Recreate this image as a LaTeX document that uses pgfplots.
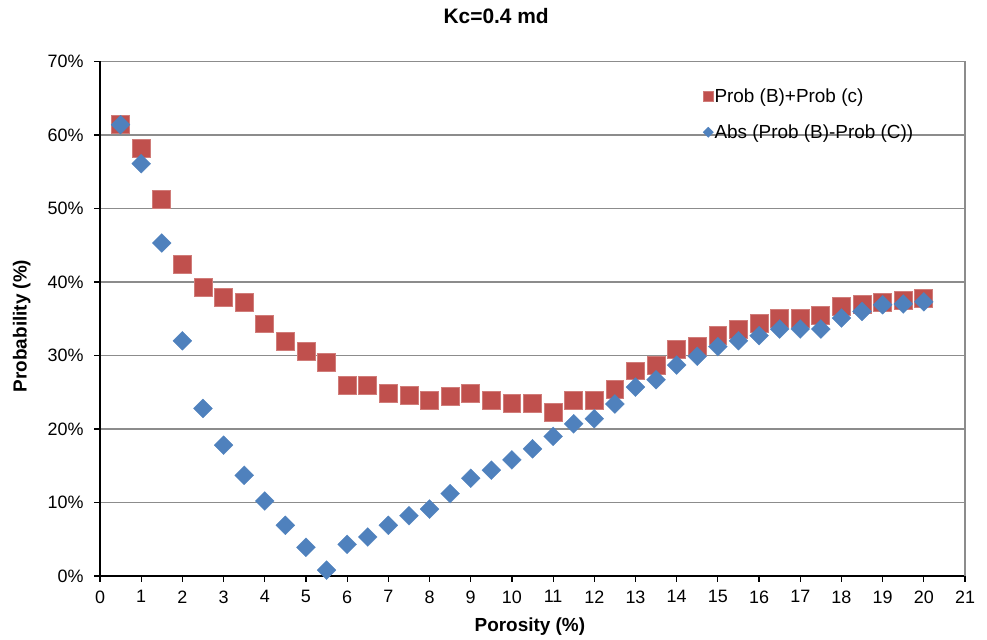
\documentclass[border=0pt]{standalone}
\usepackage{fontspec}
\setmainfont{Liberation Sans}
\usepackage{pgfplots}
\pgfplotsset{compat=1.18}
\definecolor{cred}{HTML}{C0504D}
\definecolor{cblue}{HTML}{4F81BD}
\definecolor{cgrid}{HTML}{8C8C8C}
\begin{document}
\begin{tikzpicture}[x=1bp,y=1bp]
\useasboundingbox (0,0) rectangle (987,640);
\begin{axis}[
  at={(100bp,64bp)}, anchor=south west,
  scale only axis, width=865bp, height=514.5bp,
  xmin=0, xmax=21, ymin=0, ymax=70,
  xtick={0,...,21}, ytick={0,10,...,70},
  yticklabel={\pgfmathprintnumber{\tick}\%},
  /pgf/number format/assume math mode=true,
  axis x line*=bottom, axis y line*=left,
  axis line style={black, line width=1.2bp, -},
  ymajorgrids, grid style={cgrid, line width=1.2bp},
  tick align=outside, major tick length=6bp,
  tick style={black, line width=1.2bp},
  ticklabel style={font=\fontsize{18}{20}\selectfont},
  xticklabel style={yshift=-5bp},
  yticklabel style={xshift=-7bp},
  xlabel={Porosity (\%)}, ylabel={Probability (\%)},
  xlabel style={font=\bfseries\fontsize{19}{22}\selectfont, at={(axis description cs:0.497,-0.0991)}, anchor=center},
  ylabel style={font=\bfseries\fontsize{19}{22}\selectfont, at={(axis description cs:-0.0905,0.486)}, anchor=center},
  title={Kc=0.4 md},
  title style={font=\bfseries\fontsize{21}{24}\selectfont, at={(axis description cs:0.458,1.0768)}, anchor=center},
  legend style={at={(axis description cs:0.697,0.950)}, anchor=north west, draw=none, fill=none,
    font=\fontsize{19}{21}\selectfont, row sep=19bp, inner sep=0pt,
    nodes={inner sep=1bp}},
  legend cell align=left,
  legend image code/.code={\draw[#1, every mark/.append style={scale=0.55}] plot coordinates {(0.2cm,0cm)};},
  clip=false,
]
\addplot[only marks, mark=square*, mark size=9, mark options={fill=cred, draw=cred!75!white, line width=0.8bp}] coordinates {
(0.5,61.4)(1.0,58.2)(1.5,51.2)(2.0,42.4)(2.5,39.3)(3.0,37.9)(3.5,37.2)(4.0,34.3)
(4.5,31.9)(5.0,30.5)(5.5,29.0)(6.0,25.9)(6.5,25.9)(7.0,24.9)(7.5,24.6)(8.0,23.9)
(8.5,24.4)(9.0,24.9)(9.5,23.9)(10.0,23.5)(10.5,23.5)(11.0,22.3)(11.5,23.9)(12.0,23.9)
(12.5,25.4)(13.0,27.9)(13.5,28.7)(14.0,30.8)(14.5,31.2)(15.0,32.7)(15.5,33.6)(16.0,34.4)
(16.5,35.0)(17.0,35.0)(17.5,35.4)(18.0,36.7)(18.5,37.0)(19.0,37.2)(19.5,37.5)(20.0,37.8)
};
\addlegendentry{Prob (B)+Prob (c)}
\addplot[only marks, mark=square*, mark size=6.7, mark options={fill=cblue, draw=cblue, rotate=45, line width=0.3bp}] coordinates {
(0.5,61.4)(1.0,56.1)(1.5,45.3)(2.0,32.0)(2.5,22.8)(3.0,17.8)(3.5,13.7)(4.0,10.2)
(4.5,6.9)(5.0,3.9)(5.5,0.8)(6.0,4.3)(6.5,5.3)(7.0,6.9)(7.5,8.2)(8.0,9.1)
(8.5,11.2)(9.0,13.3)(9.5,14.4)(10.0,15.8)(10.5,17.3)(11.0,19.0)(11.5,20.7)(12.0,21.4)
(12.5,23.4)(13.0,25.7)(13.5,26.7)(14.0,28.7)(14.5,29.9)(15.0,31.2)(15.5,32.0)(16.0,32.7)
(16.5,33.6)(17.0,33.6)(17.5,33.6)(18.0,35.1)(18.5,36.0)(19.0,36.9)(19.5,37.0)(20.0,37.3)
};
\addlegendentry{Abs (Prob (B)-Prob (C))}
\draw[cgrid, line width=1.2bp] (rel axis cs:1,0) -- (rel axis cs:1,1);
\end{axis}
\end{tikzpicture}
\end{document}
